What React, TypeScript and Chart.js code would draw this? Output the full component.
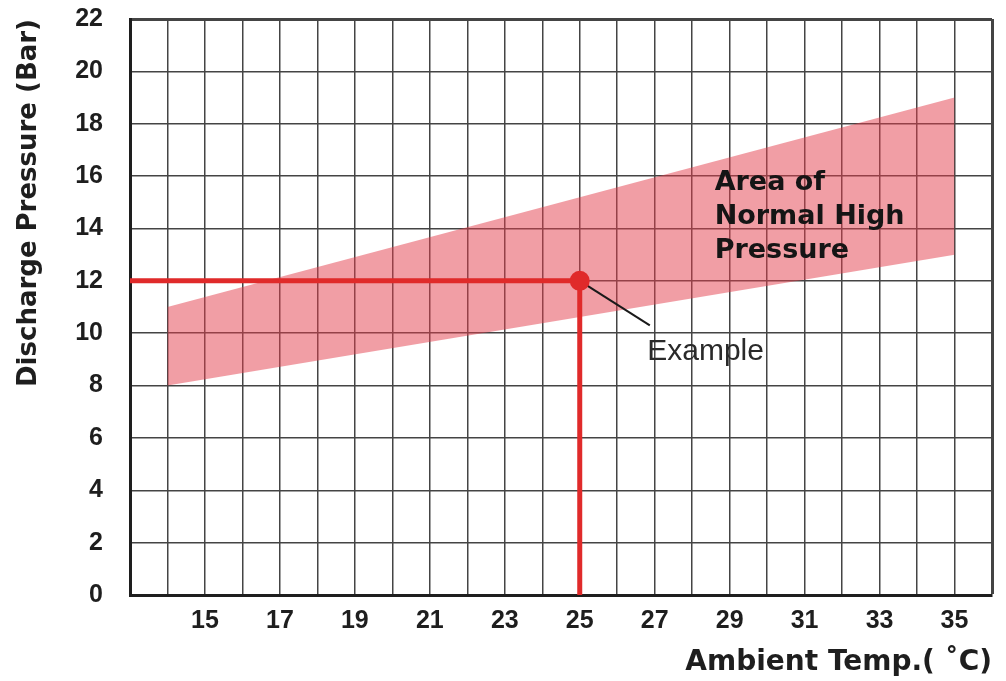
import React, { useEffect, useRef } from "react";
import { Chart, registerables } from "chart.js";

Chart.register(...registerables);

// ---- data ----
const xRange = [13, 36];
const yRange = [0, 22];
const xTickLabels = [15, 17, 19, 21, 23, 25, 27, 29, 31, 33, 35];
const yTickLabels = [0, 2, 4, 6, 8, 10, 12, 14, 16, 18, 20, 22];

const bandTemps = [14, 35];
const bandUpper = [11, 19];
const bandLower = [8, 13];

const guideTemps = [13, 25, 25];
const guidePressures = [12, 12, 0];

const exampleTemp = [25];
const examplePressure = [12];

const leaderTemps = [25, 26.87];
const leaderPressures = [12, 10.3];

const areaLabelLines = ["Area of", "Normal High", "Pressure"];
const areaLabelTemp = 28.6;
const areaLabelPressures = [15.75, 14.45, 13.15];
const exampleLabel = "Example";
const exampleLabelTemp = 26.8;
const exampleLabelPressure = 9.3;

const xTitle = "Ambient Temp.( ˚C)";
const yTitle = "Discharge Pressure (Bar)";

const pts = (xs: number[], ys: number[]) => xs.map((x, i) => ({ x, y: ys[i] }));

const textPlugin = {
  id: "textLabels",
  afterDatasetsDraw(chart: any) {
    const { ctx, scales } = chart;
    const xs = scales.x;
    const ys = scales.y;
    ctx.save();
    ctx.fillStyle = "#151515";
    ctx.font = "bold 27px 'DejaVu Sans'";
    ctx.textAlign = "left";
    ctx.textBaseline = "middle";
    areaLabelLines.forEach((line, i) => {
      ctx.fillText(line, xs.getPixelForValue(areaLabelTemp), ys.getPixelForValue(areaLabelPressures[i]));
    });
    ctx.fillStyle = "#2a2a2a";
    ctx.font = "30px 'Liberation Sans', Arial";
    ctx.fillText(exampleLabel, xs.getPixelForValue(exampleLabelTemp), ys.getPixelForValue(exampleLabelPressure));
    ctx.restore();
  },
};

export default function App() {
  const ref = useRef<HTMLCanvasElement | null>(null);

  useEffect(() => {
    if (!ref.current) return;
    const chart = new Chart(ref.current, {
      type: "line",
      data: {
        datasets: [
          {
            label: "upper",
            data: pts(bandTemps, bandUpper),
            borderWidth: 0,
            pointRadius: 0,
            fill: "+1",
            backgroundColor: "rgba(228, 62, 75, 0.5)",
            order: 5,
          },
          {
            label: "lower",
            data: pts(bandTemps, bandLower),
            borderWidth: 0,
            pointRadius: 0,
            fill: false,
            order: 6,
          },
          {
            label: "guide",
            data: pts(guideTemps, guidePressures),
            borderColor: "#e02a2a",
            borderWidth: 5,
            pointRadius: 0,
            fill: false,
            tension: 0,
            order: 3,
          },
          {
            label: "leader",
            data: pts(leaderTemps, leaderPressures),
            borderColor: "#1a1a1a",
            borderWidth: 2,
            pointRadius: 0,
            fill: false,
            order: 2,
          },
          {
            label: "example",
            data: pts(exampleTemp, examplePressure),
            showLine: false,
            pointRadius: 10,
            pointBackgroundColor: "#e02a2a",
            pointBorderColor: "#e02a2a",
            pointBorderWidth: 0,
            order: 1,
          },
        ],
      },
      options: {
        animation: false,
        responsive: false,
        layout: { padding: { left: 0, top: 19, right: 14, bottom: 0 } },
        plugins: { legend: { display: false }, tooltip: { enabled: false } },
        scales: {
          x: {
            type: "linear",
            min: xRange[0],
            max: xRange[1],
            afterFit: (s: any) => {
              s.height = 86;
              s.paddingLeft = 0;
              s.paddingRight = 0;
            },
            ticks: {
              stepSize: 1,
              autoSkip: false,
              maxRotation: 0,
              padding: 11,
              color: "#1e1e1e",
              font: { family: "'Liberation Sans', Arial", size: 25, weight: "bold" },
              callback: (v: any) => (xTickLabels.includes(Number(v)) ? String(v) : ""),
            },
            grid: {
              drawTicks: false,
              color: "#444444",
              lineWidth: (c: any) => (c.tick && c.tick.value === xRange[1] ? 3 : 1.5),
            },
            border: { display: true, width: 3, color: "#1e1e1e" },
            title: {
              display: true,
              text: xTitle,
              align: "end",
              color: "#1e1e1e",
              font: { family: "'DejaVu Sans'", size: 28, weight: "bold" },
              padding: { top: 0, bottom: 1 },
            },
          },
          y: {
            type: "linear",
            min: yRange[0],
            max: yRange[1],
            afterFit: (s: any) => {
              s.width = 130;
              s.paddingTop = 0;
              s.paddingBottom = 0;
            },
            ticks: {
              stepSize: 2,
              padding: 27,
              color: "#1e1e1e",
              font: { family: "'Liberation Sans', Arial", size: 25, weight: "bold" },
              callback: (v: any) => (yTickLabels.includes(Number(v)) ? String(v) : ""),
            },
            grid: {
              drawTicks: false,
              color: "#444444",
              lineWidth: (c: any) => (c.tick && c.tick.value === yRange[1] ? 3 : 1.5),
            },
            border: { display: true, width: 3, color: "#1e1e1e" },
            title: {
              display: true,
              text: yTitle,
              align: "end",
              color: "#1e1e1e",
              font: { family: "'DejaVu Sans'", size: 26, weight: "bold" },
              padding: { top: 14, bottom: 0 },
            },
          },
        },
      },
      plugins: [textPlugin],
    } as any);
    return () => chart.destroy();
  }, []);

  return (
    <div style={{ position: "fixed", left: 0, top: 0, width: 1006, height: 681, background: "#fff" }}>
      <canvas ref={ref} width={1006} height={681} style={{ display: "block" }} />
    </div>
  );
}
